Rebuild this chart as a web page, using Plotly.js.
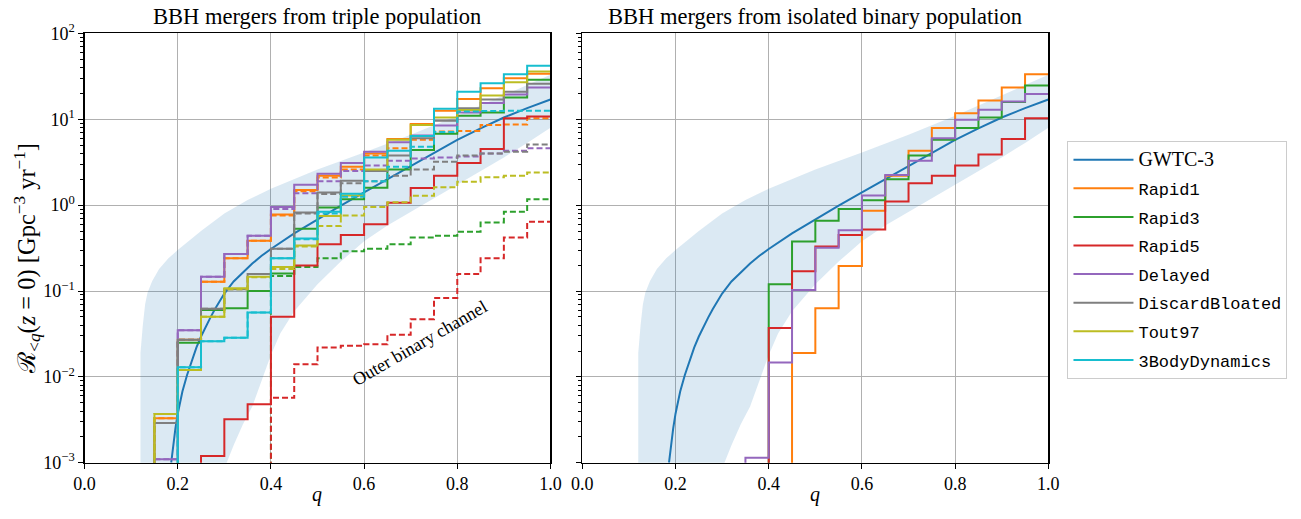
<!DOCTYPE html>
<html><head><meta charset="utf-8">
<script src="https://cdn.plot.ly/plotly-3.0.1.min.js"></script>
<style>html,body{margin:0;padding:0;background:#fff}#c{width:1301px;height:519px}</style>
</head><body><div id="c"></div>
<script>
// bin edges in q
const qEdges = [0.15,0.20,0.25,0.30,0.35,0.40,0.45,0.50,0.55,0.60,0.65,0.70,0.75,0.80,0.85,0.90,0.95,1.00];

// GWTC-3 median curve and 90% band
const gwtcQ = [0.186,0.188,0.19,0.195,0.20,0.21,0.22,0.23,0.24,0.25,0.26,0.27,0.28,0.29,0.30,0.32,0.34,0.36,0.38,0.40,0.45,0.50,0.55,0.60,0.65,0.70,0.75,0.80,0.85,0.90,0.95,1.00];
const gwtcR = [0.001,0.00126,0.00158,0.00251,0.00372,0.00676,0.0105,0.0155,0.0219,0.0295,0.0389,0.049,0.0617,0.0759,0.0933,0.129,0.166,0.209,0.257,0.309,0.468,0.684,0.989,1.41,2.0,2.85,4.07,5.75,7.85,10.5,13.5,17.0];
const bandUpQ = [0.12,0.12,0.125,0.13,0.135,0.145,0.16,0.18,0.20,0.25,0.30,0.35,0.40,0.45,0.50,0.60,0.70,0.80,0.90,1.00];
const bandUpR = [0.0001,0.019,0.04,0.07,0.095,0.13,0.18,0.24,0.30,0.50,0.80,1.15,1.55,2.0,2.6,4.1,6.6,11,19,33];
const bandLoQ = [0.305,0.32,0.34,0.36,0.38,0.40,0.42,0.45,0.50,0.55,0.60,0.65,0.70,0.75,0.80,0.85,0.90,0.95,1.00];
const bandLoR = [0.001,0.0016,0.0028,0.0045,0.009,0.018,0.032,0.058,0.12,0.22,0.38,0.58,0.85,1.2,1.75,2.5,3.6,5.3,8.0];

// triple population: all mergers (solid) and outer binary channel (dashed), per bin
const triRapid1   = [0.0033,0.027,0.128,0.24,0.386,0.78,1.5,2.2,2.8,4.0,5.9,8.8,12.6,17.3,23,30,34];
const triRapid3   = [0,0.025,0.06,0.063,0.10,0.16,0.53,0.94,1.17,1.6,2.6,4.4,6.8,11,12,18,29];
const triRapid5   = [0,0,0.0012,0.0032,0.0048,0.05,0.198,0.35,0.45,0.60,1.07,1.58,2.2,3.1,4.5,10.3,10.8];
const triDelayed  = [0.0011,0.035,0.147,0.27,0.44,0.95,1.73,2.32,3.1,4.2,5.4,6.5,8.5,12,15.5,19.5,23.5];
const triDiscard  = [0.0029,0.027,0.062,0.105,0.158,0.31,0.82,1.4,1.92,2.5,3.8,6.0,9.6,13.5,17,21,26];
const triTout97   = [0.0037,0.012,0.05,0.108,0.147,0.19,0.34,0.75,1.3,2.6,5.8,8.6,10.5,12.8,19,27,36];
const tri3Body    = [0,0.0129,0.026,0.0286,0.056,0.24,0.41,0.84,1.36,3.6,4.3,6.4,13.3,21,26.4,33.6,42];

const outRapid1   = [0.0033,0.027,0.128,0.24,0.386,0.76,1.45,2.1,2.6,3.8,4.6,5.8,7.2,7.3,8.6,8.7,10.3];
const outRapid3   = [0,0,0,0,0,0.15,0.19,0.24,0.29,0.31,0.35,0.42,0.44,0.49,0.63,0.84,1.17];
const outRapid5   = [0,0,0,0,0,0.0057,0.014,0.022,0.023,0.024,0.031,0.047,0.083,0.158,0.24,0.42,0.64];
const outDelayed  = [0.0011,0.035,0.147,0.27,0.44,0.90,1.38,1.9,2.5,2.9,3.3,3.5,3.6,3.7,4.0,4.3,4.6];
const outDiscard  = [0.0029,0.027,0.062,0.105,0.158,0.31,0.80,1.35,1.8,1.9,2.2,2.6,3.2,3.8,4.0,4.2,5.1];
const outTout97   = [0.0037,0.012,0.05,0.105,0.145,0.18,0.33,0.57,0.76,0.95,1.08,1.29,1.62,1.88,2.12,2.2,2.4];
const out3Body    = [0,0.0129,0.026,0.0286,0.056,0.24,0.40,0.80,1.25,1.9,2.8,4.8,7.1,12.3,12.5,12.6,12.6];

// isolated binary population
const isoRapid1   = [0,0,0,0,0,0,0.019,0.063,0.196,0.86,2.2,4.3,7.9,11.8,16.6,23.5,33.6];
const isoRapid3   = [0,0,0,0,0,0.12,0.377,0.66,0.90,1.14,2.0,3.8,5.8,7.9,10.5,15.9,24.8];
const isoRapid5   = [0,0,0,0,0,0.037,0.17,0.33,0.45,0.52,1.1,1.8,2.2,2.9,3.9,5.9,10.3];
const isoDelayed  = [0,0,0,0,0.00114,0.0147,0.103,0.32,0.51,1.3,2.25,3.3,6.0,9.9,12.9,16.1,19.7];

const yTickVals = [1e-3,1e-2,1e-1,1e0,1e1,1e2];
const yTickText = ['10<sup>−3</sup>','10<sup>−2</sup>','10<sup>−1</sup>','10<sup>0</sup>','10<sup>1</sup>','10<sup>2</sup>'];
const xTickVals = [0,0.2,0.4,0.6,0.8,1.0];
const xTickText = ['0.0','0.2','0.4','0.6','0.8','1.0'];

const C = {blue:'#1f77b4',orange:'#ff7f0e',green:'#2ca02c',red:'#d62728',purple:'#9467bd',gray:'#7f7f7f',olive:'#bcbd22',cyan:'#17becf'};
const SERIF = 'Liberation Serif, DejaVu Serif, serif';
const MONO = 'Liberation Mono, DejaVu Sans Mono, monospace';
const TINY = 1e-6;

function stepTrace(vals, color, dash, xa, ya, name, legend){
  const x = [qEdges[0]], y = [TINY];
  for (let i=0;i<vals.length;i++){ x.push(qEdges[i]); y.push(vals[i]>0?vals[i]:TINY); }
  x.push(qEdges[qEdges.length-1]); y.push(vals[vals.length-1]>0?vals[vals.length-1]:TINY);
  return {type:'scatter',mode:'lines',x:x,y:y,xaxis:xa,yaxis:ya,
    line:{color:color,width:2,shape:'hv',dash:dash?'6px,3px':'solid'},
    name:name,showlegend:!!legend,legendgroup:name,hoverinfo:'skip'};
}
function bandTrace(xa,ya){
  const x = [bandUpQ[0]].concat(bandUpQ, bandLoQ.slice().reverse(), [bandLoQ[0]]);
  const y = [0.0001].concat(bandUpR, bandLoR.slice().reverse(), [0.0001]);
  return {type:'scatter',mode:'lines',x:x,y:y,xaxis:xa,yaxis:ya,fill:'toself',
    fillcolor:'rgba(31,119,180,0.16)',line:{width:0},showlegend:false,hoverinfo:'skip'};
}
function gwtcTrace(xa,ya,legend){
  return {type:'scatter',mode:'lines',x:gwtcQ,y:gwtcR,xaxis:xa,yaxis:ya,
    line:{color:C.blue,width:2,shape:'linear'},
    name:'<span style="font-family:Liberation Serif;font-size:20px">GWTC-3</span>',showlegend:legend,legendgroup:'GWTC',hoverinfo:'skip'};
}

const data = [
  bandTrace('x','y'), gwtcTrace('x','y',true),
  stepTrace(triRapid1,C.orange,false,'x','y','Rapid1',true),
  stepTrace(outRapid1,C.orange,true,'x','y','Rapid1',false),
  stepTrace(triRapid3,C.green,false,'x','y','Rapid3',true),
  stepTrace(outRapid3,C.green,true,'x','y','Rapid3',false),
  stepTrace(triRapid5,C.red,false,'x','y','Rapid5',true),
  stepTrace(outRapid5,C.red,true,'x','y','Rapid5',false),
  stepTrace(triDelayed,C.purple,false,'x','y','Delayed',true),
  stepTrace(outDelayed,C.purple,true,'x','y','Delayed',false),
  stepTrace(triDiscard,C.gray,false,'x','y','DiscardBloated',true),
  stepTrace(outDiscard,C.gray,true,'x','y','DiscardBloated',false),
  stepTrace(triTout97,C.olive,false,'x','y','Tout97',true),
  stepTrace(outTout97,C.olive,true,'x','y','Tout97',false),
  stepTrace(tri3Body,C.cyan,false,'x','y','3BodyDynamics',true),
  stepTrace(out3Body,C.cyan,true,'x','y','3BodyDynamics',false),
  bandTrace('x2','y2'), gwtcTrace('x2','y2',false),
  stepTrace(isoRapid1,C.orange,false,'x2','y2','Rapid1',false),
  stepTrace(isoRapid3,C.green,false,'x2','y2','Rapid3',false),
  stepTrace(isoRapid5,C.red,false,'x2','y2','Rapid5',false),
  stepTrace(isoDelayed,C.purple,false,'x2','y2','Delayed',false)
];

const minorVals = [];
for (let e=-3;e<2;e++) for (let m=2;m<10;m++) minorVals.push(m*Math.pow(10,e));

function xax(domain, anchor){
  return {domain:domain,anchor:anchor,range:[0,1],tickvals:xTickVals,ticktext:xTickText,
    showgrid:true,gridcolor:'#b0b0b0',gridwidth:1,zeroline:false,
    showline:true,linecolor:'#000',linewidth:1.2,mirror:true,
    ticks:'outside',ticklen:5,tickcolor:'#000',tickfont:{family:SERIF,size:18,color:'#000'}};
}
function yax(anchor, labels){
  return {domain:[0.1085,0.9355],anchor:anchor,type:'log',range:[-3,2],
    tickvals:yTickVals,ticktext:yTickText,showticklabels:labels,
    showgrid:true,gridcolor:'#b0b0b0',gridwidth:1,zeroline:false,
    showline:true,linecolor:'#000',linewidth:1.2,mirror:true,
    ticks:'outside',ticklen:5,tickcolor:'#000',tickfont:{family:SERIF,size:18,color:'#000'},
    minor:{tickvals:minorVals,ticks:'outside',ticklen:3,tickcolor:'#000',showgrid:false}};
}

const layout = {
  width:1301,height:519,margin:{l:0,r:0,t:0,b:0},paper_bgcolor:'#fff',plot_bgcolor:'#fff',
  xaxis:xax([0.065,0.4231],'y'), yaxis:yax('x',true),
  xaxis2:xax([0.4476,0.8058],'y2'), yaxis2:yax('x2',false),
  showlegend:true,
  legend:{x:0.8205,y:0.728,xanchor:'left',yanchor:'top',bgcolor:'#fff',bordercolor:'#cccccc',borderwidth:1,
    font:{family:MONO,size:17,color:'#000'},traceorder:'grouped',tracegroupgap:3.5,itemwidth:60},
  annotations:[
    {text:'BBH mergers from triple population',xref:'paper',yref:'paper',x:0.244,y:0.968,xanchor:'center',yanchor:'middle',showarrow:false,font:{family:SERIF,size:22.5,color:'#000'}},
    {text:'BBH mergers from isolated binary population',xref:'paper',yref:'paper',x:0.6267,y:0.968,xanchor:'center',yanchor:'middle',showarrow:false,font:{family:SERIF,size:22.5,color:'#000'}},
    {text:'<i>q</i>',xref:'paper',yref:'paper',x:0.244,y:0.022,xanchor:'center',showarrow:false,font:{family:SERIF,size:20,color:'#000'}},
    {text:'<i>q</i>',xref:'paper',yref:'paper',x:0.6267,y:0.022,xanchor:'center',showarrow:false,font:{family:SERIF,size:20,color:'#000'}},
    {text:'ℛ<sub>&lt;<i>q</i></sub>(<i>z</i> = 0) [Gpc<sup>−3</sup> yr<sup>−1</sup>]',xref:'paper',yref:'paper',x:0.021,y:0.502,xanchor:'center',yanchor:'middle',textangle:-90,showarrow:false,font:{family:SERIF,size:24.5,color:'#000'}},
    {text:'Outer binary channel',xref:'x',yref:'y',x:0.72,y:Math.log10(0.0245),textangle:-30,showarrow:false,font:{family:SERIF,size:18,color:'#000'}}
  ]
};
Plotly.newPlot('c',data,layout,{staticPlot:true});
</script></body></html>
